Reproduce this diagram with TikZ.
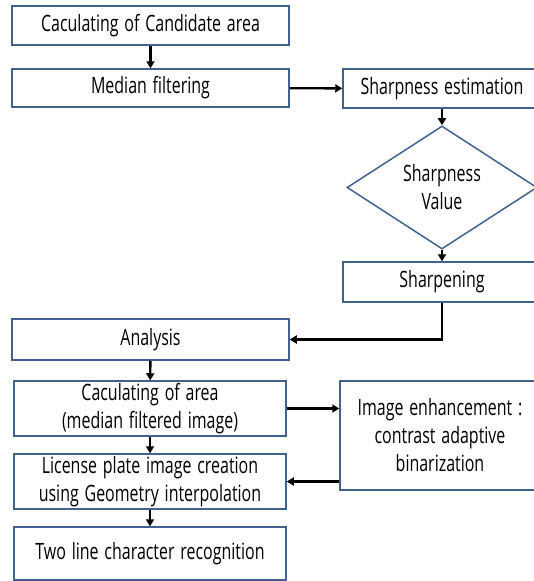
\documentclass[tikz,border=0pt]{standalone}
\usepackage{fontspec}
\setmainfont[FakeStretch=0.71,WordSpace=1.4]{Open Sans}
\usetikzlibrary{arrows.meta,positioning,shapes.geometric}
\definecolor{boxblue}{RGB}{65,98,143}

\tikzset{
  box/.style={draw=boxblue,line width=1.5pt,fill=white,inner sep=0pt,align=center,
    font=\fontsize{22.5}{28}\selectfont},
  decision/.style={diamond,draw=boxblue,line width=1.5pt,fill=white,inner sep=0pt,
    align=center,minimum width=190pt,minimum height=115pt,font=\fontsize{22.5}{28}\selectfont},
  arr/.style={-{Triangle[length=7pt,width=8pt]},line width=2.4pt}
}

\begin{document}
\begin{tikzpicture}[x=1pt,y=-1pt]

  \useasboundingbox (0,0) rectangle (533,581);

  % left column
  \node[box,minimum width=277pt,minimum height=39pt] (cand) at (150.5,25.5) {Caculating of Candidate area};
  \node[box,minimum width=277pt,minimum height=38pt] (median) at (150.5,88) {Median filtering};

  % right column
  \node[box,minimum width=198pt,minimum height=39pt] (sharpest) at (442,88.5) {Sharpness estimation};
  \node[decision] (value) at (442,187.5) {Sharpness\\Value};
  \node[box,minimum width=198pt,minimum height=40pt] (sharpen) at (442,282) {Sharpening};

  % lower part
  \node[box,minimum width=277pt,minimum height=41pt] (analysis) at (150.5,339.5) {Analysis};
  \node[box,minimum width=272pt,minimum height=55pt] (area) at (150,408.5) {Caculating of area\\(median filtered image)};
  \node[box,minimum width=272pt,minimum height=55pt] (license) at (150,481.5) {License plate image creation\\using Geometry interpolation};
  \node[box,minimum width=272pt,minimum height=53pt] (twoline) at (150,553.5) {Two line character recognition};
  \node[box,minimum width=200pt,minimum height=109pt] (enhance) at (440,435.5) {Image enhancement :\\contrast adaptive\\binarization};

  % connectors
  \draw[arr] (cand) -- (median);
  \draw[arr] (median) -- (sharpest);
  \draw[arr] (sharpest) -- (value);
  \draw[arr] (value) -- (sharpen);
  \draw[arr] (sharpen.south) |- (analysis.east);
  \draw[arr] (analysis) -- (area);
  \draw[arr] (area) -- (license);
  \draw[arr] (license) -- (twoline);
  \draw[arr] (area.east) -- (area.east -| enhance.west);
  \draw[arr] (enhance.west |- license.east) -- (license.east);

\end{tikzpicture}
\end{document}
